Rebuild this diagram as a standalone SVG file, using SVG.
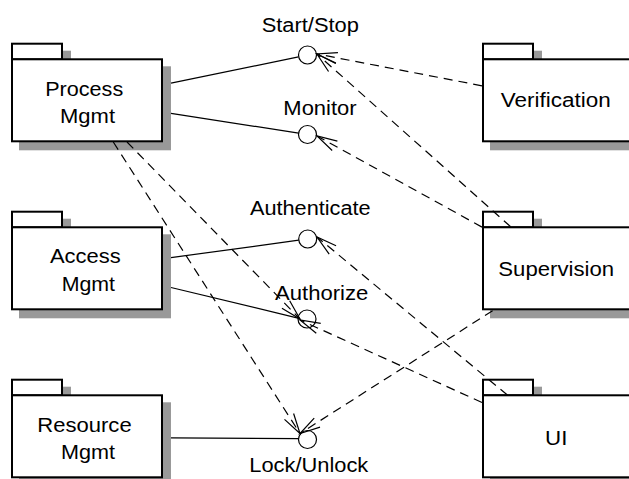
<svg xmlns="http://www.w3.org/2000/svg" xmlns:xlink="http://www.w3.org/1999/xlink" width="629" height="479" viewBox="0 0 629 479">
<style>
.t{font-family:"Liberation Sans",Arial,sans-serif;font-size:20px;fill:#000;text-anchor:middle;}
.sh{fill:#999;}
.bx{fill:#fff;stroke:#000;stroke-width:2;}
.ln{stroke:#000;stroke-width:1.2;fill:none;}
.dp{stroke:#000;stroke-width:1.2;fill:none;stroke-dasharray:9 6;marker-end:url(#arr);}
.if{fill:#fff;stroke:#000;stroke-width:1.2;}
</style>
<defs>
<marker id="arr" markerUnits="userSpaceOnUse" orient="auto" refX="0" refY="0" markerWidth="30" markerHeight="30" overflow="visible">
<path d="M-20.3,-5.4 L0,0 L-20.3,5.4" fill="none" stroke="#000" stroke-width="1.2" stroke-dasharray="none"/>
</marker>
<g id="package">
<rect class="sh" x="8" y="8" width="52" height="17.6"/>
<rect class="sh" x="8" y="23.6" width="152" height="84"/>
<rect class="bx" x="1" y="1" width="50" height="15.6"/>
<rect class="bx" x="1" y="16.6" width="150" height="82"/>
</g>
</defs>
<rect width="629" height="479" fill="#fff"/>
<g id="process-mgmt">
<use xlink:href="#package" x="11" y="42.7"/>
<text class="t" x="84.2" y="95.7" textLength="78" lengthAdjust="spacingAndGlyphs">Process</text>
<text class="t" x="87.5" y="122.5" textLength="55" lengthAdjust="spacingAndGlyphs">Mgmt</text>
</g>
<g id="access-mgmt">
<use xlink:href="#package" x="11" y="210.7"/>
<text class="t" x="85.3" y="263.3" textLength="70.7" lengthAdjust="spacingAndGlyphs">Access</text>
<text class="t" x="88.3" y="290.7" textLength="53.3" lengthAdjust="spacingAndGlyphs">Mgmt</text>
</g>
<g id="resource-mgmt">
<use xlink:href="#package" x="11" y="378.7"/>
<text class="t" x="84.5" y="431.7" textLength="94.3" lengthAdjust="spacingAndGlyphs">Resource</text>
<text class="t" x="88" y="459" textLength="54" lengthAdjust="spacingAndGlyphs">Mgmt</text>
</g>
<g id="verification">
<use xlink:href="#package" x="482" y="42.7"/>
<text class="t" x="555.8" y="107.3" textLength="110" lengthAdjust="spacingAndGlyphs">Verification</text>
</g>
<g id="supervision">
<use xlink:href="#package" x="482" y="210.7"/>
<text class="t" x="556.2" y="276" textLength="115.7" lengthAdjust="spacingAndGlyphs">Supervision</text>
</g>
<g id="ui">
<use xlink:href="#package" x="482" y="378.7"/>
<text class="t" x="556.2" y="445" textLength="22.3" lengthAdjust="spacingAndGlyphs">UI</text>
</g>
<g id="start-stop">
<circle class="if" cx="307.5" cy="55" r="9"/>
<text class="t" x="310.3" y="32.3" textLength="97.3" lengthAdjust="spacingAndGlyphs">Start/Stop</text>
</g>
<g id="monitor">
<circle class="if" cx="307.5" cy="134.5" r="9"/>
<text class="t" x="320" y="115" textLength="73.3" lengthAdjust="spacingAndGlyphs">Monitor</text>
</g>
<g id="authenticate">
<circle class="if" cx="307.7" cy="239" r="9"/>
<text class="t" x="310.3" y="215" textLength="120.7" lengthAdjust="spacingAndGlyphs">Authenticate</text>
</g>
<g id="authorize">
<circle class="if" cx="307" cy="319" r="9"/>
<text class="t" x="321.7" y="300" textLength="93.3" lengthAdjust="spacingAndGlyphs">Authorize</text>
</g>
<g id="lock-unlock">
<circle class="if" cx="307.5" cy="439.5" r="9"/>
<text class="t" x="308.8" y="471.7" textLength="119" lengthAdjust="spacingAndGlyphs">Lock/Unlock</text>
</g>
<g id="connectors">
<line class="ln" x1="171" y1="83.2" x2="298.5" y2="56.8"/>
<line class="ln" x1="171" y1="113.4" x2="298.6" y2="133.1"/>
<line class="ln" x1="171" y1="257.6" x2="298.8" y2="240.2"/>
<line class="ln" x1="171" y1="287.5" x2="299" y2="318.3"/>
<line class="ln" x1="171" y1="437.8" x2="298.6" y2="438.6"/>
<line class="dp" x1="482" y1="85.8" x2="317" y2="54"/>
<line class="dp" x1="510.6" y1="226.7" x2="317" y2="54"/>
<line class="dp" x1="482" y1="227.1" x2="317" y2="136"/>
<line class="dp" x1="507.4" y1="395" x2="317" y2="237"/>
<line class="dp" x1="482" y1="402.5" x2="300" y2="320"/>
<line class="dp" x1="492.6" y1="310.7" x2="300" y2="433.5"/>
<line class="dp" x1="127" y1="142" x2="300" y2="319"/>
<line class="dp" x1="113.3" y1="142" x2="300" y2="433.5"/>
</g>
</svg>
